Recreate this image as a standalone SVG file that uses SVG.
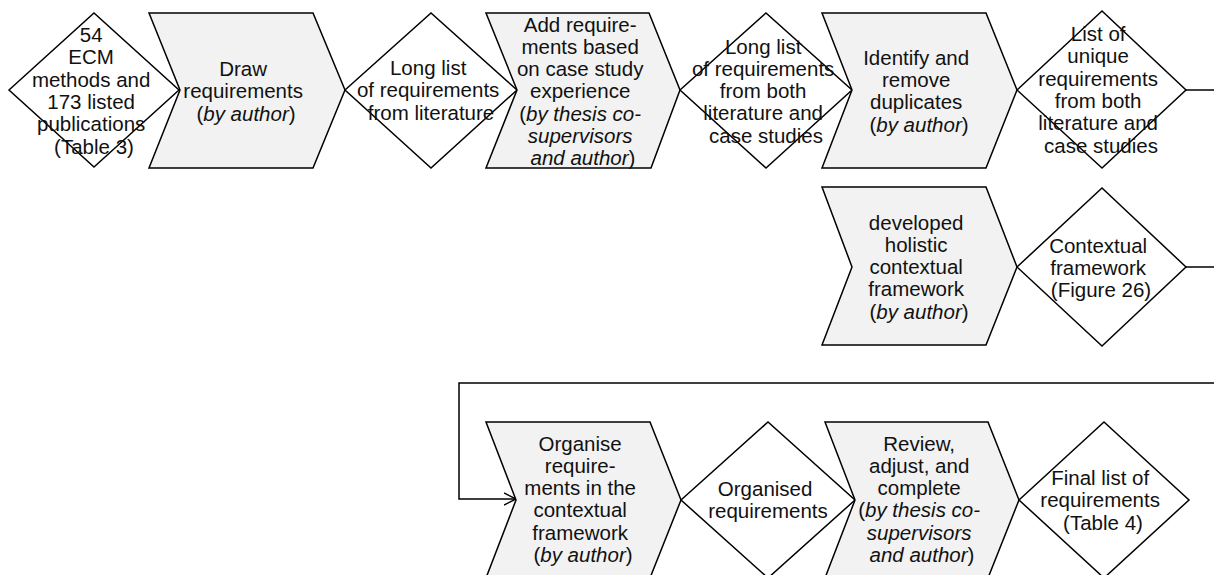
<svg xmlns="http://www.w3.org/2000/svg" width="1214" height="575" viewBox="0 0 1214 575">
  <defs>
    <style>
      .step { fill: #f2f2f2; stroke: #000; stroke-width: 1.5; stroke-linejoin: miter; }
      .result { fill: #fff; stroke: #000; stroke-width: 1.5; }
      .link { fill: none; stroke: #000; stroke-width: 1.5; }
      .lbl { font-family: "Liberation Sans", Arial, sans-serif; font-size: 20.5px; fill: #111; text-anchor: middle; }
      .it { font-style: italic; }
    </style>
    <marker id="openArrow" markerWidth="14" markerHeight="14" refX="12" refY="7" orient="auto" markerUnits="userSpaceOnUse">
      <path d="M0,1 L12,7 L0,13" fill="none" stroke="#000" stroke-width="1.5"/>
    </marker>
  </defs>

  <rect width="1214" height="575" fill="#fff"/>

  <!-- connectors -->
  <g id="connectors">
    <line class="link" x1="1186" y1="90" x2="1214" y2="90"/>
    <line class="link" x1="1186" y1="267" x2="1214" y2="267"/>
    <polyline class="link" points="1214,383 459,383 459,499 516,499" marker-end="url(#openArrow)"/>
  </g>

  <!-- top row -->
  <g id="n-sources">
    <polygon class="result" points="9,90 94,13 179,90 94,167"/>
    <text class="lbl">
      <tspan x="94" y="42">54</tspan>
      <tspan x="94" y="64.3">ECM</tspan>
      <tspan x="94" y="86.6">methods and</tspan>
      <tspan x="94" y="108.9">173 listed</tspan>
      <tspan x="94" y="131.2">publications</tspan>
      <tspan x="94" y="153.5">(Table 3)</tspan>
    </text>
  </g>

  <g id="n-draw">
    <polygon class="step" points="149,13 313,13 345,90 313,168 149,168 180,90"/>
    <text class="lbl">
      <tspan x="246" y="76">Draw</tspan>
      <tspan x="246" y="98.3">requirements</tspan>
      <tspan x="246" y="120.6">(<tspan class="it">by author</tspan>)</tspan>
    </text>
  </g>

  <g id="n-longlist-lit">
    <polygon class="result" points="345,90 431,13 517,90 431,168"/>
    <text class="lbl">
      <tspan x="431" y="75">Long list</tspan>
      <tspan x="431" y="97.3">of requirements</tspan>
      <tspan x="431" y="119.6">from literature</tspan>
    </text>
  </g>

  <g id="n-add">
    <polygon class="step" points="486,13 649,13 680,90 651,168 486,168 517,90"/>
    <text class="lbl">
      <tspan x="583" y="31.5">Add require-</tspan>
      <tspan x="583" y="53.8">ments based</tspan>
      <tspan x="583" y="76.1">on case study</tspan>
      <tspan x="583" y="98.4">experience</tspan>
      <tspan x="583" y="120.7">(<tspan class="it">by thesis co-</tspan></tspan>
      <tspan x="583" y="143" class="it">supervisors</tspan>
      <tspan x="583" y="165.3"><tspan class="it">and author</tspan>)</tspan>
    </text>
  </g>

  <g id="n-longlist-both">
    <polygon class="result" points="680,90 766,13 852,90 766,168"/>
    <text class="lbl">
      <tspan x="766" y="53.5">Long list</tspan>
      <tspan x="766" y="75.8">of requirements</tspan>
      <tspan x="766" y="98.1">from both</tspan>
      <tspan x="766" y="120.4">literature and</tspan>
      <tspan x="766" y="142.7">case studies</tspan>
    </text>
  </g>

  <g id="n-dedupe">
    <polygon class="step" points="822,13 986,13 1017,90 986,168 822,168 852,90"/>
    <text class="lbl">
      <tspan x="919" y="64.6">Identify and</tspan>
      <tspan x="919" y="86.9">remove</tspan>
      <tspan x="919" y="109.2">duplicates</tspan>
      <tspan x="919" y="131.5">(<tspan class="it">by author</tspan>)</tspan>
    </text>
  </g>

  <g id="n-unique">
    <polygon class="result" points="1017,90 1102,11 1186,90 1102,168"/>
    <text class="lbl">
      <tspan x="1101" y="41">List of</tspan>
      <tspan x="1101" y="63.3">unique</tspan>
      <tspan x="1101" y="85.6">requirements</tspan>
      <tspan x="1101" y="107.9">from both</tspan>
      <tspan x="1101" y="130.2">literature and</tspan>
      <tspan x="1101" y="152.5">case studies</tspan>
    </text>
  </g>

  <!-- middle row -->
  <g id="n-develop">
    <polygon class="step" points="822,187 986,187 1017,267 986,345 822,345 852,267"/>
    <text class="lbl">
      <tspan x="919" y="229.5">developed</tspan>
      <tspan x="919" y="251.8">holistic</tspan>
      <tspan x="919" y="274.1">contextual</tspan>
      <tspan x="919" y="296.4">framework</tspan>
      <tspan x="919" y="318.7">(<tspan class="it">by author</tspan>)</tspan>
    </text>
  </g>

  <g id="n-framework">
    <polygon class="result" points="1017,267 1102,188 1186,267 1102,346"/>
    <text class="lbl">
      <tspan x="1101" y="252.5">Contextual</tspan>
      <tspan x="1101" y="274.8">framework</tspan>
      <tspan x="1101" y="297.1">(Figure 26)</tspan>
    </text>
  </g>

  <!-- bottom row -->
  <g id="n-organise">
    <polygon class="step" points="486,422 650,422 681,500 650,578 486,578 516,500"/>
    <text class="lbl">
      <tspan x="583" y="450.5">Organise</tspan>
      <tspan x="583" y="472.8">require-</tspan>
      <tspan x="583" y="495.1">ments in the</tspan>
      <tspan x="583" y="517.4">contextual</tspan>
      <tspan x="583" y="539.7">framework</tspan>
      <tspan x="583" y="562">(<tspan class="it">by author</tspan>)</tspan>
    </text>
  </g>

  <g id="n-organised">
    <polygon class="result" points="681,500 768,422 855,500 768,578"/>
    <text class="lbl">
      <tspan x="768" y="495.5">Organised</tspan>
      <tspan x="768" y="517.8">requirements</tspan>
    </text>
  </g>

  <g id="n-review">
    <polygon class="step" points="825,422 988,422 1019,500 988,578 825,578 855,500"/>
    <text class="lbl">
      <tspan x="922" y="450.5">Review,</tspan>
      <tspan x="922" y="472.8">adjust, and</tspan>
      <tspan x="922" y="495.1">complete</tspan>
      <tspan x="922" y="517.4">(<tspan class="it">by thesis co-</tspan></tspan>
      <tspan x="922" y="539.7" class="it">supervisors</tspan>
      <tspan x="922" y="562"><tspan class="it">and author</tspan>)</tspan>
    </text>
  </g>

  <g id="n-final">
    <polygon class="result" points="1019,500 1104,422 1189,500 1104,578"/>
    <text class="lbl">
      <tspan x="1103" y="485">Final list of</tspan>
      <tspan x="1103" y="507.3">requirements</tspan>
      <tspan x="1103" y="529.6">(Table 4)</tspan>
    </text>
  </g>
</svg>
